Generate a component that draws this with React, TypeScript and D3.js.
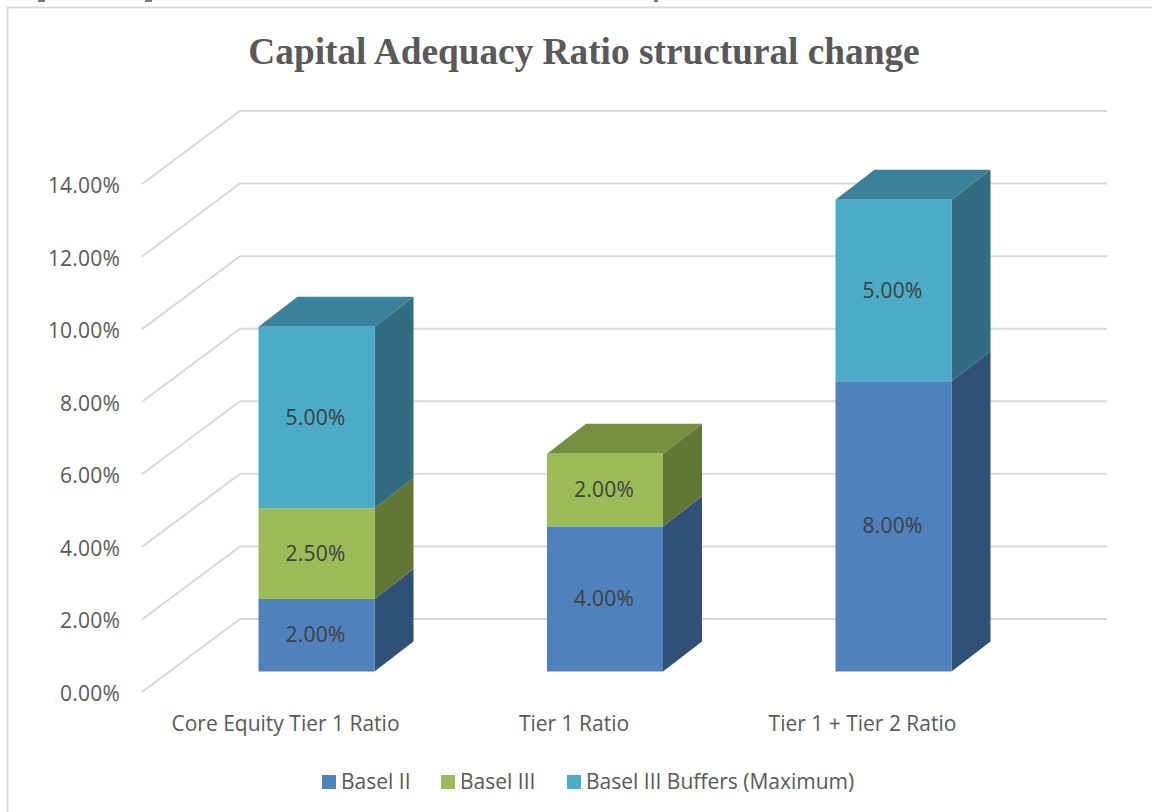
import React from "react";
import * as d3 from "d3";

const categories = ["Core Equity Tier 1 Ratio", "Tier 1 Ratio", "Tier 1 + Tier 2 Ratio"];
const seriesNames = ["Basel II", "Basel III", "Basel III Buffers (Maximum)"];
const baselII = [2, 4, 8];
const baselIII = [2.5, 2, 0];
const buffers = [5, 0, 5];
const ticks = [0, 2, 4, 6, 8, 10, 12, 14];
const front = ["#4f81bd", "#9bbb59", "#4bacc6"];
const side = ["#2f5178", "#627736", "#316d7f"];
const top = ["#3a6492", "#76903f", "#39829a"];
const clippedCaptionMarks = [[38, 7], [145, 7], [654, 4]];

const W = 1152, H = 812;
const depthX = 39, depthY = 30;
const y = d3.scaleLinear().domain([0, 14]).range([692, 184]);
const wallDx = 98, wallDy = 73;
const barBaseShift = 20.5;
const sans = "'Open Sans', 'Noto Sans', sans-serif";
const fmt = (v: number) => v.toFixed(2) + "%";

const pts = (p: number[][]) => p.map(a => a.join(",")).join(" ");

export default function App() {
  const values = [baselII, baselIII, buffers];
  const stacked = d3.stack<number>().keys([0, 1, 2] as any).value((i, k) => values[k as any][i])(d3.range(3));
  const bw = 116;
  const barX = (i: number) => 258.5 + i * 288.5;
  return (
    <svg width={W} height={H} style={{ position: "absolute", left: 0, top: 0, background: "#fff" }}>
      {clippedCaptionMarks.map(([a, w]) => <rect key={a} x={a} y={0} width={w} height={2} fill="#777" />)}
      <path d={`M7.5,${H}V7.5H${W}`} fill="none" stroke="#d9d9d9" strokeWidth={2} />
      <text x={584} y={64} textAnchor="middle" fontFamily="'Liberation Serif', serif" fontWeight="bold" fontSize={37.3} fill="#595959">Capital Adequacy Ratio structural change</text>
      {ticks.map(t => (
        <g key={t}>
          <path d={`M142,${y(t)}L${142 + wallDx},${y(t) - wallDy}H1107`} fill="none" stroke="#d9d9d9" strokeWidth={2} />
          <text x={120} y={y(t) + 9} textAnchor="end" fontFamily={sans} fontSize={21} letterSpacing={0.2} fill="#595959">{fmt(t)}</text>
        </g>
      ))}
      {categories.map((c, i) => {
        const l = barX(i), r = l + bw;
        return (
          <g key={c}>
            {stacked.map((s, k) => {
              const [a, b] = s[i];
              if (b === a) return null;
              const yb = y(a) - barBaseShift, yt = y(b) - barBaseShift;
              const isTop = b === d3.max(stacked, q => q[i][1]);
              return (
                <g key={k}>
                  <polygon points={pts([[r, yb], [r + depthX, yb - depthY], [r + depthX, yt - depthY], [r, yt]])} fill={side[k]} />
                  {isTop && <polygon points={pts([[l, yt], [l + depthX, yt - depthY], [r + depthX, yt - depthY], [r, yt]])} fill={top[k]} />}
                  <rect x={l} y={yt} width={bw} height={yb - yt} fill={front[k]} />
                  <text x={(l + r) / 2 - 1} y={(yb + yt) / 2 + 7} textAnchor="middle" fontFamily={sans} fontSize={21} letterSpacing={0.2} fill="#404040">{fmt(b - a)}</text>
                </g>
              );
            })}
            <text x={l + bw / 2 - 31} y={731} textAnchor="middle" fontFamily={sans} fontSize={21} fill="#595959">{c}</text>
          </g>
        );
      })}
      {seriesNames.map((n, i) => {
        const lx = [322, 441, 567][i];
        return (
          <g key={n}>
            <rect x={lx} y={775} width={14} height={14} fill={front[i]} />
            <text x={lx + 19} y={788.5} fontFamily={sans} fontSize={21} fill="#595959">{n}</text>
          </g>
        );
      })}
    </svg>
  );
}
